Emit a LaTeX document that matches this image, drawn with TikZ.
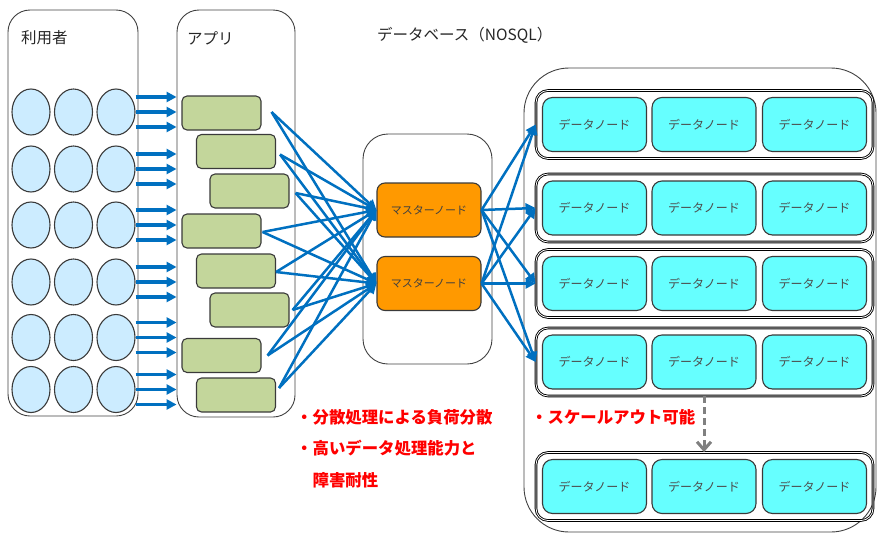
\documentclass[tikz,border=0pt]{standalone}
\usepackage{fontspec}
\setmainfont{Noto Sans CJK JP}
\usetikzlibrary{shapes.geometric,arrows.meta,calc}

\definecolor{flowblue}{HTML}{0070C0}
\definecolor{userfill}{HTML}{CCECFF}
\definecolor{appfill}{HTML}{C3D69B}
\definecolor{masterfill}{HTML}{FF9900}
\definecolor{datafill}{HTML}{66FFFF}
\definecolor{edgegray}{HTML}{3A3A3A}
\definecolor{scalegray}{HTML}{808080}
\definecolor{notered}{HTML}{FF0000}

\tikzset{
  container/.style={draw=black!75, line width=0.9pt, rounded corners=22pt, inner sep=0pt},
  user/.style={ellipse, draw=edgegray, line width=1.1pt, fill=userfill,
    minimum width=38pt, minimum height=46pt, inner sep=0pt},
  appbox/.style={draw=edgegray, line width=1.1pt, fill=appfill, rounded corners=5pt,
    minimum width=79pt, minimum height=34pt, inner sep=0pt},
  masterbox/.style={draw=edgegray, line width=1.1pt, fill=masterfill, rounded corners=8pt,
    minimum width=104pt, minimum height=54pt, inner sep=0pt,
    font=\fontsize{11}{13}\selectfont, text=black!75},
  rowframe/.style={draw=black, line width=0.9pt, double=white, double distance=0.8pt,
    rounded corners=12pt, minimum width=337pt, minimum height=68pt, inner sep=0pt},
  datanode/.style={draw=edgegray, line width=1.1pt, fill=datafill, rounded corners=10pt,
    minimum width=104pt, minimum height=54pt, inner sep=0pt,
    font=\fontsize{12}{14}\selectfont, text=black!70},
  uarrow/.style={draw=flowblue, line width=3.3pt, -{Triangle[length=10pt,width=10pt]}},
  link/.style={draw=flowblue, line width=2.5pt, -{Triangle[length=10pt,width=10pt]}},
  scaleout/.style={draw=scalegray, line width=3pt, dash pattern=on 7pt off 4pt,
    -{Straight Barb[length=8pt,width=14pt,line width=3pt]}},
  title/.style={anchor=west, inner sep=0pt, font=\fontsize{15.5}{18}\selectfont, text=black!85},
  note/.style={anchor=west, inner sep=0pt, font=\fontsize{16.4}{19}\selectfont\bfseries, text=notered},
}

\begin{document}
\begin{tikzpicture}[x=1pt, y=-1pt]
  \useasboundingbox (0,0) rectangle (877,533);

  % outer containers
  \node[container, minimum width=130pt, minimum height=406pt] (users) at (73,213) {};
  \node[container, minimum width=118pt, minimum height=407pt] (app) at (236,213.5) {};
  \node[container, rounded corners=25pt, minimum width=129pt, minimum height=230pt] (mbox) at (427.5,249) {};
  \node[container, rounded corners=45pt, minimum width=352pt, minimum height=464pt] (db) at (700,300) {};

  % titles
  \node[title] (tuser) at (21,38) {利用者};
  \node[title] (tapp) at (187,38) {アプリ};
  \node[title] (tdb) at (377,35) {データベース（NOSQL）};

  % users: 6 rows x 3 columns
  \foreach \i/\y in {1/112, 2/169, 3/225, 4/282, 5/337.5, 6/389.5} {
    \foreach \j/\x in {1/31, 2/73.5, 3/116} {
      \node[user] (u\i\j) at (\x,\y) {};
    }
  }

  % application instances
  \foreach \k/\x/\y in {1/221.5/113, 2/236/151.5, 3/249.5/191, 4/221.5/231,
                        5/236/271, 6/249.5/310, 7/221.5/355.5, 8/236/395} {
    \node[appbox] (r\k) at (\x,\y) {};
  }

  % master nodes
  \node[masterbox] (m1) at (429,210) {マスターノード};
  \node[masterbox] (m2) at (429,283.5) {マスターノード};

  % data node groups
  \foreach \k/\y in {1/124.5, 2/208, 3/283.5, 4/362, 5/486.5} {
    \node[rowframe] (row\k) at (704.5,\y) {};
    \foreach \c/\x in {1/594.5, 2/704, 3/814.5} {
      \node[datanode] (d\k\c) at (\x,\y) {データノード};
    }
  }

  % requests from users to the application tier
  \foreach \i in {1,...,6} {
    \foreach \o in {-15,0,15} {
      \draw[uarrow] ([yshift=\o pt]u\i3.east) -- ([yshift=\o pt]u\i3.east -| app.west);
    }
  }

  % application instances to master nodes
  \foreach \k/\dx/\dy in {1/10/-1, 2/4/3, 3/6/2, 4/1/1, 5/0/1, 6/3/0, 7/6/0, 8/3/-7} {
    \foreach \m in {1,2} {
      \draw[link] ($(r\k.east)+(\dx,\dy)$) -- (m\m.west);
    }
  }

  % master nodes to data node groups
  \foreach \m in {1,2} {
    \foreach \k in {1,...,4} {
      \draw[link] (m\m.east) -- (row\k.west);
    }
  }

  % scale-out
  \draw[scaleout] (row4.south -| d42.center) -- (row5.north -| d42.center);

  % notes
  \node[note] (n1) at (296,417) {・分散処理による負荷分散};
  \node[note] (n2) at (296,448) {・高いデータ処理能力と};
  \node[note] (n3) at (296,480) {\hphantom{・}障害耐性};
  \node[note] (n4) at (531,417) {・スケールアウト可能};
\end{tikzpicture}
\end{document}
